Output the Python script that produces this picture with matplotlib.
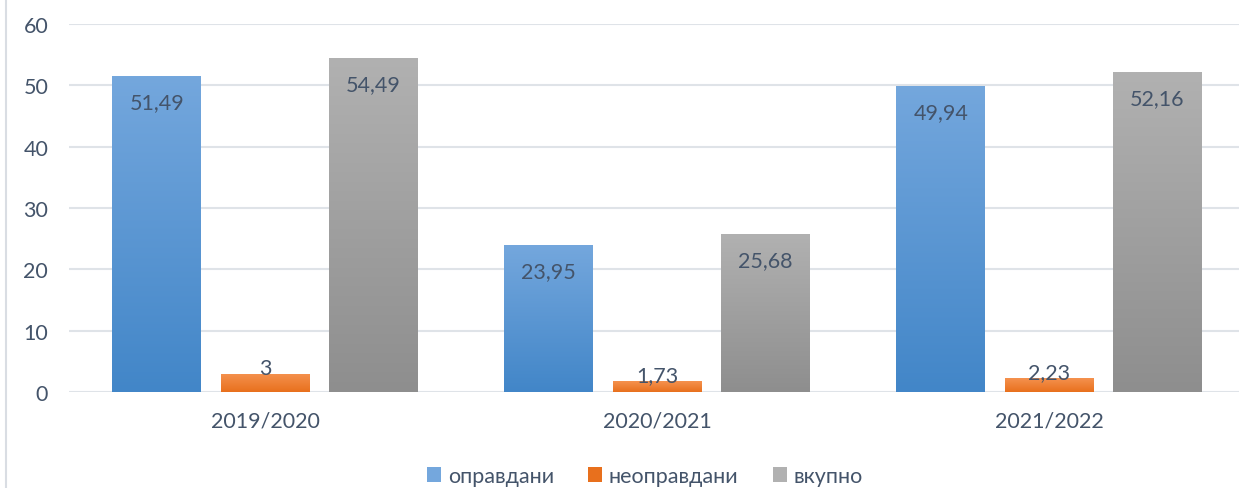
import numpy as np
import matplotlib
matplotlib.use("Agg")
import matplotlib.pyplot as plt
from matplotlib.colors import LinearSegmentedColormap
from matplotlib.lines import Line2D
from matplotlib.patches import Patch

# data
years = ["2019/2020", "2020/2021", "2021/2022"]
series_names = ["оправдани", "неоправдани", "вкупно"]
opravdani = [51.49, 23.95, 49.94]
neopravdani = [3, 1.73, 2.23]
vkupno = [54.49, 25.68, 52.16]
yticks = [0, 10, 20, 30, 40, 50, 60]

# gradient colours (top, bottom) per series
grads = [("#74a7dd", "#4286c8"), ("#f5924f", "#e8701d"), ("#b1b1b1", "#8e8e8e")]
text_col = "#44546a"
grid_col = "#dfe3e8"
fs = 15.5

plt.rcParams['font.family'] = ['Lato', 'DejaVu Sans']

W, H = 1239, 489
fig = plt.figure(figsize=(W / 100, H / 100), dpi=100)
ax = fig.add_axes([69 / W, 96 / H, (1245 - 69) / W, (464 - 96) / H])

x = np.arange(len(years))
offs = [-0.276, 0, 0.276]
bw = 0.227
all_vals = [opravdani, neopravdani, vkupno]

for vals, off, (ctop, cbot) in zip(all_vals, offs, grads):
    bars = ax.bar(x + off, vals, bw, color=cbot, zorder=2)
    cmap = LinearSegmentedColormap.from_list("g", [cbot, ctop])
    grad = np.linspace(0, 1, 256).reshape(-1, 1)
    for b, v in zip(bars, vals):
        im = ax.imshow(grad, cmap=cmap, aspect="auto", origin="lower",
                       extent=[b.get_x(), b.get_x() + b.get_width(), 0, v],
                       zorder=2.1)
        im.set_clip_path(b)
        lab = ("%g" % v).replace(".", ",")
        # labels sit inside the top of tall bars, just above short ones
        dy = -26 if v > 10 else 6
        ax.annotate(lab, (b.get_x() + b.get_width() / 2, v), xytext=(0, dy),
                    textcoords="offset pixels", ha="center", va="center",
                    fontsize=fs, color=text_col, zorder=3)

ax.set_xlim(-0.5, 2.5)
ax.set_ylim(0, 60)
ax.set_yticks(yticks)
ax.set_xticks(x)
ax.set_xticklabels(years)
ax.yaxis.grid(True, color=grid_col, linewidth=1.5, zorder=0)
ax.set_axisbelow(True)
for s in ax.spines.values():
    s.set_visible(False)
ax.tick_params(axis="both", length=0, labelsize=fs, labelcolor=text_col)
ax.tick_params(axis="y", pad=15)
ax.tick_params(axis="x", pad=13)

handles = [Patch(facecolor=grads[0][0]), Patch(facecolor=grads[1][1]), Patch(facecolor=grads[2][0])]
for h in handles:
    h.set_edgecolor("none")
fig.legend(handles, series_names, loc="center", bbox_to_anchor=(645 / W, 1 - 477 / H),
           ncol=3, frameon=False, fontsize=fs, labelcolor=text_col,
           handlelength=0.65, handleheight=0.65, handletextpad=0.3, columnspacing=1.6)

# chart border on the left
fig.add_artist(Line2D([6 / W, 6 / W], [0, 1], color="#d9dde3", linewidth=1.5))

fig.savefig("out.png", dpi=100)
